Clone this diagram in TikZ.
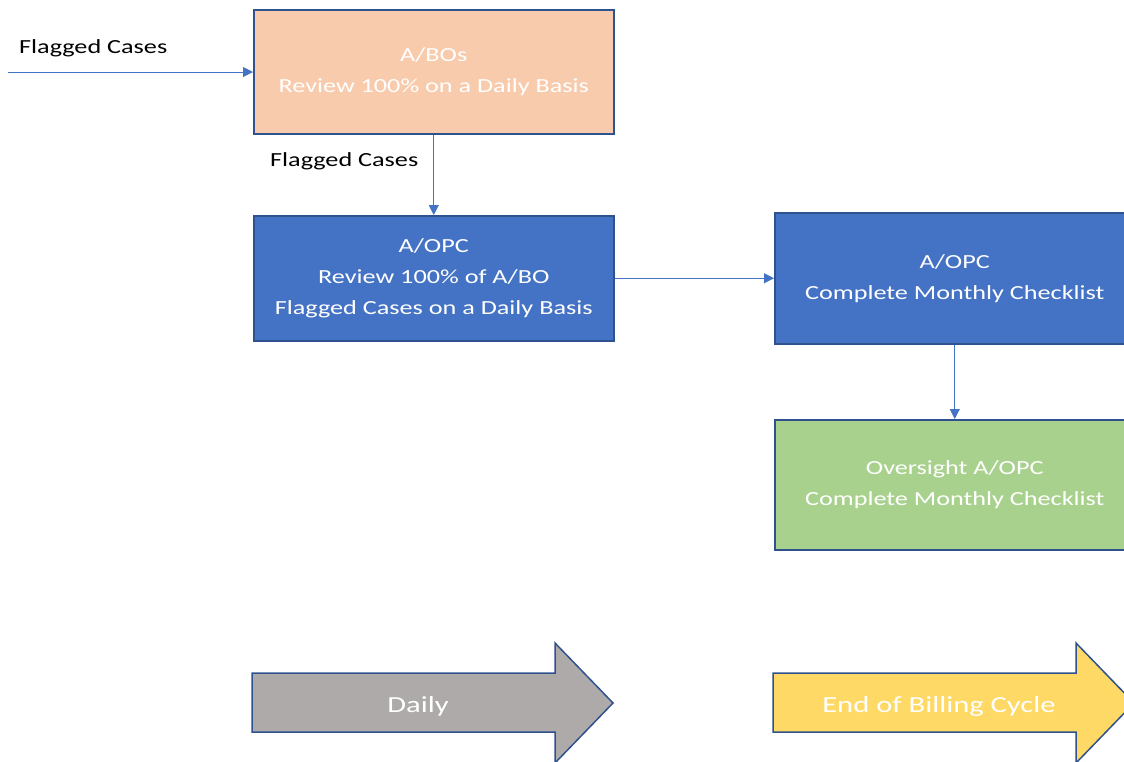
\documentclass[tikz,border=0pt]{standalone}
\usepackage{fontspec}
\setmainfont{Carlito}
\newfontfamily\widefont[FakeStretch=1.31]{Carlito}
\newfontfamily\arrfont[FakeStretch=1.33]{Carlito}
\usetikzlibrary{arrows.meta}
\definecolor{peach}{HTML}{F8CBAD}
\definecolor{blueA}{HTML}{4472C4}
\definecolor{greenA}{HTML}{A9D18E}
\definecolor{greyA}{HTML}{AEAAAA}
\definecolor{yellowA}{HTML}{FFD966}
\definecolor{edgeA}{HTML}{2F528F}
\tikzset{
  box/.style={draw=edgeA, line width=1.5pt, text=white, font=\widefont\fontsize{20}{31}\selectfont, align=center, inner sep=0pt, anchor=north west, text depth=3pt},
  conn/.style={draw=blueA, line width=1pt, -{Triangle[length=10pt,width=10pt]}},
  lab/.style={font=\widefont\fontsize{20}{24}\selectfont, text=black, inner sep=0pt},
  arrowshape/.style={draw=edgeA, line width=1.5pt, line join=miter},
  arrlab/.style={font=\arrfont\fontsize{23}{27}\selectfont, text=white}
}
\begin{document}
\begin{tikzpicture}[x=1pt,y=-1pt]
\useasboundingbox (0,0) rectangle (1124,761);
\clip (0,0) rectangle (1124,761);
\node[box, fill=peach, minimum width=360pt, minimum height=124pt] (abo) at (253,9) {A/BOs\\Review 100\% on a Daily Basis};
\node[box, fill=blueA, minimum width=360pt, minimum height=125pt] (opc1) at (253,215) {A/OPC\\Review 100\% of A/BO\\Flagged Cases on a Daily Basis};
\node[box, fill=blueA, minimum width=360pt, minimum height=131pt] (opc2) at (774,212) {A/OPC\\Complete Monthly Checklist};
\node[box, fill=greenA, minimum width=360pt, minimum height=130pt] (ovs) at (774,419) {Oversight A/OPC\\Complete Monthly Checklist};
\coordinate (src) at (8,72);
\draw[conn] (src) -- (abo.west |- src);
\node[lab, anchor=west] (l1) at (19,48) {Flagged Cases};
\draw[conn] (abo.south) -- (opc1.north);
\node[lab, anchor=west] (l2) at (270,161) {Flagged Cases};
\draw[conn] (opc1.east) -- (opc1.east -| opc2.west);
\draw[conn] (opc2.south) -- (ovs.north);
% timeline arrows
\draw[arrowshape, fill=greyA] (252,673) -- (555,673) -- (555,643) -- (613,703) -- (555,763) -- (555,732) -- (252,732) -- cycle;
\node[arrlab] (daily) at (418,706) {Daily};
\draw[arrowshape, fill=yellowA] (773,673) -- (1076,673) -- (1076,643) -- (1134,703) -- (1076,763) -- (1076,732) -- (773,732) -- cycle;
\node[arrlab] (ebc) at (939,706) {End of Billing Cycle};
\end{tikzpicture}
\end{document}
